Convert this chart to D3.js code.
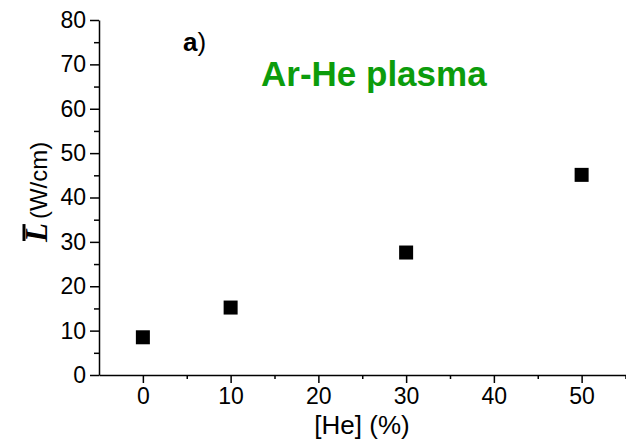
<!DOCTYPE html>
<html>
<head>
<meta charset="utf-8">
<script src="https://cdn.jsdelivr.net/npm/d3@7"></script>
<style>
  body { margin: 0; background: #fff; }
  svg { display: block; font-family: Arial, "Liberation Sans", sans-serif; }
</style>
</head>
<body>
<script>
// data
var heFraction = [0, 10, 30, 50];          // [He] (%)
var power = [8.5, 15.2, 27.6, 45.1];       // L (W/cm)
var xTicks = [0, 10, 20, 30, 40, 50];
var yTicks = [0, 10, 20, 30, 40, 50, 60, 70, 80];

var w = 626, h = 441;

var x = d3.scaleLinear().domain([-5, 55]).range([99, 625.5]);
var y = d3.scaleLinear().domain([0, 80]).range([375, 20]);

var svg = d3.select('body').append('svg')
  .attr('width', w)
  .attr('height', h);

// x axis, major + minor ticks
svg.append('g')
  .attr('transform', 'translate(0,' + y(0) + ')')
  .call(d3.axisBottom(x).tickValues(xTicks).tickSize(8).tickPadding(5).tickSizeOuter(0));
svg.append('g')
  .attr('transform', 'translate(0,' + y(0) + ')')
  .call(d3.axisBottom(x).tickValues(d3.range(5, 56, 10)).tickSize(4).tickFormat('').tickSizeOuter(0))
  .select('.domain').remove();

svg.append('g')
  .attr('transform', 'translate(' + x(-5) + ',0)')
  .call(d3.axisLeft(y).tickValues(yTicks).tickSize(9).tickPadding(4).tickSizeOuter(0));
svg.append('g')
  .attr('transform', 'translate(' + x(-5) + ',0)')
  .call(d3.axisLeft(y).tickValues(d3.range(5, 80, 10)).tickSize(5).tickFormat('').tickSizeOuter(0))
  .select('.domain').remove();

svg.selectAll('.domain, .tick line')
  .attr('stroke', '#000')
  .attr('stroke-width', 1.5);
svg.selectAll('.tick text')
  .attr('fill', '#000')
  .style('font-size', '23px')
  .style('font-family', 'Arial, "Liberation Sans", sans-serif');

// points
var size = 14;
svg.selectAll('.pt')
  .data(heFraction)
  .enter().append('rect')
    .attr('class', 'pt')
    .attr('x', function(d) { return x(d) - size / 2; })
    .attr('y', function(d, i) { return y(power[i]) - size / 2; })
    .attr('width', size)
    .attr('height', size)
    .attr('fill', '#000');

// axis titles
svg.append('text')
  .attr('x', 362)
  .attr('y', 434)
  .attr('text-anchor', 'middle')
  .style('font-size', '26px')
  .text('[He] (%)');

var yt = svg.append('g')
  .attr('transform', 'translate(47,242)rotate(-90)');
var L = yt.append('text')
  .attr('x', 0)
  .attr('y', 0)
  .style('font-family', '"Liberation Serif", "DejaVu Serif", serif')
  .style('font-weight', 'bold')
  .style('font-style', 'italic')
  .style('font-size', '31px')
  .text('L');
var lb = L.node().getBBox();
yt.append('line')
  .attr('x1', lb.x + 2)
  .attr('x2', lb.x + lb.width - 1)
  .attr('y1', -23)
  .attr('y2', -23)
  .attr('stroke', '#000')
  .attr('stroke-width', 3);
yt.append('text')
  .attr('x', lb.x + lb.width + 4)
  .attr('y', 0)
  .style('font-size', '24px')
  .text('(W/cm)');

// annotations
var a = svg.append('text')
  .attr('x', 183)
  .attr('y', 51)
  .style('font-size', '26px');
a.append('tspan').style('font-weight', 'bold').text('a');
a.append('tspan').text(')');

svg.append('text')
  .attr('x', 261)
  .attr('y', 86)
  .attr('fill', '#0c9c0c')
  .style('font-weight', 'bold')
  .style('font-size', '35px')
  .text('Ar-He plasma');
</script>
</body>
</html>
